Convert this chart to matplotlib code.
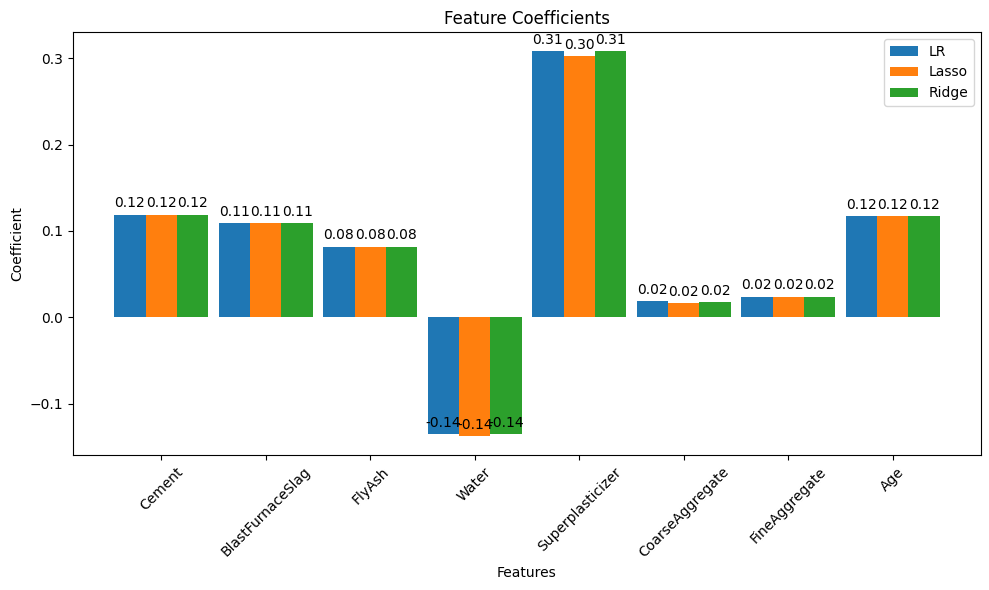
import numpy as np
import matplotlib
matplotlib.use("Agg")
import matplotlib.pyplot as plt

features = ["Cement", "BlastFurnaceSlag", "FlyAsh", "Water", "Superplasticizer",
            "CoarseAggregate", "FineAggregate", "Age"]
lr = [0.119, 0.109, 0.082, -0.135, 0.308, 0.0185, 0.024, 0.117]
lasso = [0.119, 0.109, 0.082, -0.137, 0.302, 0.017, 0.024, 0.117]
ridge = [0.119, 0.109, 0.082, -0.135, 0.308, 0.018, 0.024, 0.117]
series = [("LR", lr), ("Lasso", lasso), ("Ridge", ridge)]

fig, ax = plt.subplots(figsize=(9.89, 5.9), dpi=100)
x = np.arange(len(features))
w = 0.3
for i, (name, vals) in enumerate(series):
    bars = ax.bar(x + (i - 1) * w, vals, w, label=name)
    for b in bars:
        h = b.get_height()
        ax.annotate(f"{h:.2f}", xy=(b.get_x() + b.get_width() / 2, h),
                    xytext=(0, 3), textcoords="offset points",
                    ha="center", va="bottom")

ax.set_xticks(x)
ax.set_xticklabels(features, rotation=45)
ax.set_xlabel("Features")
ax.set_ylabel("Coefficient")
ax.set_title("Feature Coefficients")
ax.legend()
fig.subplots_adjust(left=73 / 989, right=981 / 989, top=1 - 32 / 590, bottom=1 - 455 / 590)
fig.savefig("out.png")
